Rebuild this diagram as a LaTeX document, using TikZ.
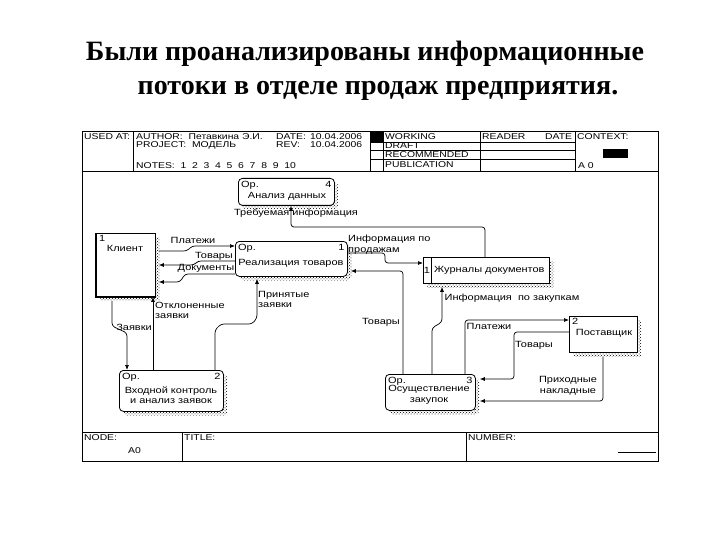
\documentclass[tikz,border=0pt]{standalone}
\usepackage{fontspec}
\setmainfont{Liberation Sans}
\newfontfamily\titlefont{Liberation Serif}
\newfontfamily\widefont[FakeStretch=1.22]{Liberation Sans}
\usetikzlibrary{arrows.meta,shadows,patterns,calc}
\begin{document}
\begin{tikzpicture}[x=1pt,y=-1pt,
  txt/.style={font=\widefont\fontsize{9}{10.5}\selectfont, inner sep=0pt},
  hdr/.style={font=\widefont\fontsize{8.5}{8.5}\selectfont, inner sep=0pt, anchor=west},
  lbl/.style={font=\widefont\fontsize{9}{10.5}\selectfont, inner sep=0pt, align=left},
  ttl/.style={font=\titlefont\bfseries\fontsize{28}{30}\selectfont, inner sep=0pt, anchor=base},
  shd/.style={general shadow={fill=none, pattern=crosshatch dots, pattern color=black, shadow xshift=4pt, shadow yshift=-4pt}},
  procbox/.style={draw, fill=white, rounded corners=4pt, line width=0.8pt, anchor=north west, inner sep=0pt, shd},
  entbox/.style={draw, fill=white, line width=0.8pt, anchor=north west, inner sep=0pt, shd},
  flow/.style={line width=0.7pt, rounded corners=3pt, -{Latex[length=5pt,width=4pt]}},
  rule/.style={line width=0.6pt}
]
\useasboundingbox (0,0) rectangle (720,540);

% title
\node[ttl] (t1) at (365,61) {Были проанализированы информационные};
\node[ttl] (t2) at (378,95) {потоки в отделе продаж предприятия.};

% frame and header
\draw[rule] (82,131) rectangle (658,461);
\draw[rule] (82,171) -- (658,171);
\foreach \x in {133,370,383,480,575} \draw[rule] (\x,131) -- (\x,171);
\foreach \y in {142,150,159} \draw[rule] (370,\y) -- (575,\y);
\fill (370,131) rectangle (383,142);
\fill (603,149) rectangle (628,158);

\node[hdr] (h1) at (84,136.5) {USED AT:};
\node[hdr] (h2) at (136,136.5) {AUTHOR:\ \ Петавкина Э.И.};
\node[hdr] (h3) at (276,136.5) {DATE:};
\node[hdr] (h4) at (310,136.5) {10.04.2006};
\node[hdr] (h5) at (136,145) {PROJECT:\ \ МОДЕЛЬ};
\node[hdr] (h6) at (276,145) {REV:};
\node[hdr] (h7) at (310,145) {10.04.2006};
\node[hdr] (h8) at (136,166) {NOTES:\ \ 1\ \ 2\ \ 3\ \ 4\ \ 5\ \ 6\ \ 7\ \ 8\ \ 9\ \ 10};
\node[hdr] (h9) at (385,136.5) {WORKING};
\node[hdr] (h10) at (385,146) {DRAFT};
\node[hdr] (h11) at (385,155) {RECOMMENDED};
\node[hdr] (h12) at (385,165) {PUBLICATION};
\node[hdr] (h13) at (482,136.5) {READER};
\node[hdr] (h14) at (545,136.5) {DATE};
\node[hdr] (h15) at (577,136.5) {CONTEXT:};
\node[hdr] (h16) at (578,166) {A 0};

% footer
\draw[rule] (82,432) -- (658,432);
\draw[rule] (182,432) -- (182,461);
\draw[rule] (466,432) -- (466,461);
\draw[rule] (618,452) -- (656,452);
\node[hdr] (f1) at (84,438) {NODE:};
\node[hdr] (f2) at (128,451) {A0};
\node[hdr] (f3) at (184,438) {TITLE:};
\node[hdr] (f4) at (468,438) {NUMBER:};

% boxes
\node[procbox, minimum width=96pt, minimum height=27pt] (n4) at (238,178) {};
\node[txt, anchor=north west] (n4a) at ($(n4.north west)+(3,3)$) {Op.};
\node[txt, anchor=north east] (n4b) at ($(n4.north east)+(-3,3)$) {4};
\node[txt] (n4t) at (287,196) {Анализ данных};

\node[entbox, minimum width=59pt, minimum height=63pt] (kl) at (96,233) {};
\draw[line width=2.4pt] (kl.north west) -- (kl.south west) -- (kl.south east);
\node[txt, anchor=north west] (kla) at ($(kl.north west)+(3,2)$) {1};
\node[txt] (klt) at (125,248) {Клиент};

\node[procbox, minimum width=112pt, minimum height=35pt] (r1) at (235,241) {};
\node[txt, anchor=north west] (r1a) at ($(r1.north west)+(3,3)$) {Op.};
\node[txt, anchor=north east] (r1b) at ($(r1.north east)+(-3,3)$) {1};
\node[txt] (r1t) at (291,263) {Реализация товаров};

\node[entbox, minimum width=126pt, minimum height=26pt] (zh) at (423,257) {};
\draw[rule] ($(zh.north west)+(8,0)$) -- ($(zh.south west)+(8,0)$);
\node[txt] (zha) at ($(zh.west)+(4,0)$) {1};
\node[txt, anchor=west] (zht) at ($(zh.west)+(11,0)$) {Журналы документов};

\node[entbox, minimum width=68pt, minimum height=36pt] (ps) at (569,316) {};
\node[txt, anchor=north west] (psa) at ($(ps.north west)+(3,2)$) {2};
\node[txt] (pst) at (604,333) {Поставщик};

\node[procbox, minimum width=104pt, minimum height=41pt] (p2) at (119,370) {};
\node[txt, anchor=north west] (p2a) at ($(p2.north west)+(3,3)$) {Op.};
\node[txt, anchor=north east] (p2b) at ($(p2.north east)+(-3,3)$) {2};
\node[txt, align=center] (p2t) at (171,395) {Входной контроль\\и анализ заявок};

\node[procbox, minimum width=90pt, minimum height=36pt] (p3) at (385,374) {};
\node[txt, anchor=north west] (p3a) at ($(p3.north west)+(3,3)$) {Op.};
\node[txt, anchor=north east] (p3b) at ($(p3.north east)+(-3,3)$) {3};
\node[txt, align=center] (p3t) at (429,395) {Осуществление\\закупок};

% connectors
\draw[flow] (zh.north -| 485,0) |- (291,227) -- (n4.south -| 291,0);
\node[lbl] (l1) at (296,213) {Требуемая информация};

\draw[flow] (r1.east |- 0,253) -| (385,263) -- (zh.west |- 0,263);
\node[lbl, anchor=north west] (l2) at (348,235) {Информация по\\продажам};

\draw[flow] (p3.north -| 403,0) |- ($(r1.east |- 0,271)+(3,0)$);
\node[lbl] (l3) at (381,322) {Товары};

\draw[flow] (p3.north -| 432,0) -- (432,328) -- (442,322) -- ($(zh.south -| 442,0)+(0,3)$);
\node[lbl] (l4) at (512,298) {Информация\ \ по закупкам};

\draw[flow] (p3.north -| 465,0) |- (ps.west |- 0,320);
\node[lbl] (l5) at (489,326) {Платежи};

\draw[flow] (ps.west |- 0,332) -| (514,379) -- ($(p3.east |- 0,379)+(4,0)$);
\node[lbl] (l6) at (534,345) {Товары};

\draw[flow] ($(ps.south -| 603,0)+(0,4)$) |- ($(p3.east |- 0,401)+(4,0)$);
\node[lbl, align=center] (l7) at (568,386) {Приходные\\накладные};

\draw[flow] ($(kl.east |- 0,251)+(3,0)$) -- (187,251) -- (192,246) -- (r1.west |- 0,246);
\node[lbl] (l8) at (193,240) {Платежи};

\draw[flow] (r1.west |- 0,261) -- (198,261) -- (194,265) -- ($(kl.east |- 0,265)+(3,0)$);
\node[lbl] (l9) at (214,256) {Товары};

\draw[flow] (r1.west |- 0,274) -- (185,274) -- (180,282) -- ($(kl.east |- 0,282)+(3,0)$);
\node[lbl] (l10) at (206,268) {Документы};

\draw[flow] ($(kl.south -| 112,0)+(0,4)$) -- (112,326) -- (127,333) -- (p2.north -| 127,0);
\node[lbl] (l11) at (134,327) {Заявки};

\draw[flow] (p2.north -| 153,0) -- (kl.south -| 153,0);
\node[lbl, anchor=north west] (l12) at (155,302) {Отклоненные\\заявки};

\draw[flow] (p2.north -| 215,0) -- (215,330) -- (221,324) -- (252,324) -- (257,318) -- ($(r1.south -| 257,0)+(0,2)$);
\node[lbl, anchor=north west] (l13) at (258,291) {Принятые\\заявки};
\end{tikzpicture}
\end{document}
